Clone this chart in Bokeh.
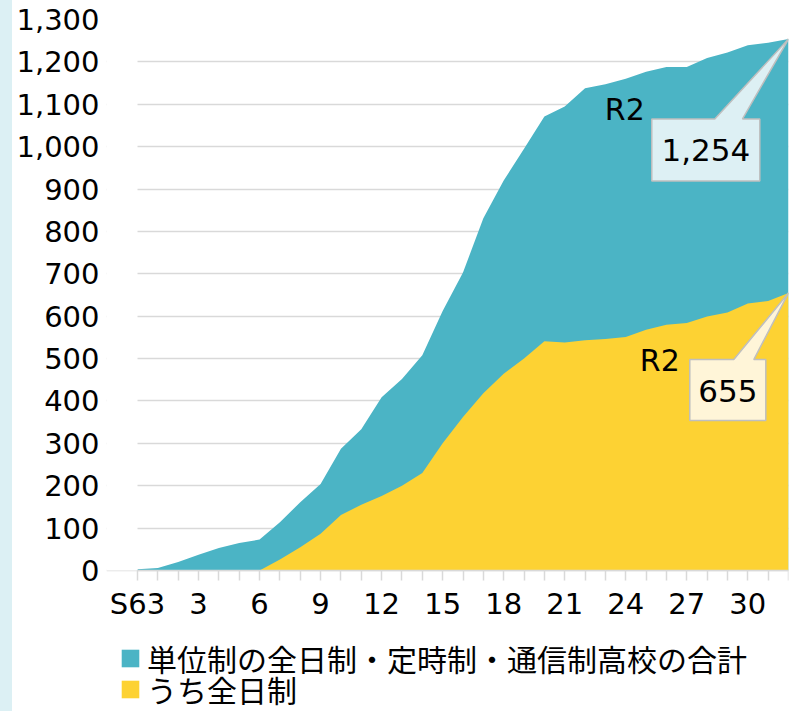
from bokeh.plotting import figure
from bokeh.layouts import row
from bokeh.models import (Range1d, FixedTicker, Legend, LegendItem, Label,
                          NumeralTickFormatter, ColumnDataSource, BoxAnnotation,
                          Div)
from bokeh.embed import file_html
from bokeh.resources import INLINE

# ---- data -------------------------------------------------------------
years = ["S63"] + [f"H{i}" for i in range(1, 31)] + ["R1", "R2"]
x_idx = list(range(len(years)))
total = [3, 6, 20, 37, 53, 65, 73, 114, 161, 204, 287, 333, 409, 452, 508,
         612, 703, 831, 920, 995, 1071, 1095, 1138, 1147, 1160, 1177, 1188,
         1188, 1209, 1222, 1239, 1245, 1254]
full_day = [0, 0, 0, 0, 0, 0, 0, 26, 55, 87, 131, 155, 176, 200, 230, 300,
            362, 418, 464, 500, 541, 538, 543, 546, 551, 568, 580, 584, 599,
            609, 630, 636, 655]
x_tick_labels = {0: "S63", 3: "3", 6: "6", 9: "9", 12: "12", 15: "15",
                 18: "18", 21: "21", 24: "24", 27: "27", 30: "30"}
y_ticks = list(range(0, 1301, 100))
Y_MAX = 1300
series_names = ["単位制の全日制・定時制・通信制高校の合計", "うち全日制"]
last_label = "R2"

TEAL = "#4bb4c5"
YELLOW = "#fdd233"
FONT = "DejaVu Sans"

# ---- layout -----------------------------------------------------------
STRIP = 12
W, H = 794 - STRIP, 711
BL, BR, BT, BB = 94, 6, 19, 0
FW = W - BL - BR
FH = H - BT - BB
X_LAST = x_idx[-1]
XPX = 651 / X_LAST          # pixels per year
YPX = 551 / Y_MAX           # pixels per school
x0 = X_LAST - FW / XPX      # frame extends left of the first year (legend room)
y0 = Y_MAX - FH / YPX       # frame extends below zero (axis labels + legend)

src = ColumnDataSource(dict(x=x_idx, total=total, full=full_day))

p = figure(width=W, height=H, output_backend="svg", toolbar_location=None,
           x_range=Range1d(x0, X_LAST), y_range=Range1d(y0, Y_MAX),
           min_border_left=BL, min_border_right=BR, min_border_top=BT,
           min_border_bottom=BB)
p.outline_line_color = None
p.background_fill_color = "white"
p.border_fill_color = "white"

# grid
p.xgrid.visible = False
p.ygrid.ticker = FixedTicker(ticks=y_ticks)
p.ygrid.grid_line_color = "#d9d9d9"
p.ygrid.grid_line_width = 1.5

# white mask left of the first year so grid lines start at the axis
p.add_layout(BoxAnnotation(left=x0, right=0, bottom=0, top=Y_MAX * 1.1,
                           fill_color="white", fill_alpha=1, line_color=None,
                           level="glyph"))

r_total = p.varea(x="x", y1=0, y2="total", source=src, fill_color=TEAL)
r_full = p.varea(x="x", y1=0, y2="full", source=src, fill_color=YELLOW)

# y axis
ya = p.yaxis[0]
ya.ticker = FixedTicker(ticks=y_ticks)
ya.formatter = NumeralTickFormatter(format="0,0")
ya.axis_line_color = None
ya.major_tick_line_color = None
ya.minor_tick_line_color = None
ya.major_label_standoff = 1
ya.major_label_text_font = FONT
ya.major_label_text_font_size = "29px"
ya.major_label_text_color = "black"

# x axis (placed at y = 0 inside the frame)
xa = p.xaxis[0]
xa.fixed_location = 0
xa.bounds = (0, X_LAST)
xa.ticker = FixedTicker(ticks=x_idx)
xa.major_label_overrides = {i: x_tick_labels.get(i, "") for i in x_idx}
xa.axis_line_color = "#d9d9d9"
xa.axis_line_width = 1.5
xa.major_tick_line_color = "#d9d9d9"
xa.major_tick_line_width = 1.5
xa.major_tick_in = 0
xa.major_tick_out = 10
xa.minor_tick_line_color = None
xa.major_label_standoff = 6
xa.major_label_text_font = FONT
xa.major_label_text_font_size = "29px"
xa.major_label_text_color = "black"

# callouts (offsets in screen pixels from the last data point)
px_x = 1 / XPX
px_y = 1 / YPX


def callout(yv, box, ptr, fill):
    l, r, t, b = box
    pl, pr = ptr
    pts = [(l, t), (pl, t), (0, 0), (pr, t), (r, t), (r, b), (l, b)]
    xs = [X_LAST + dx * px_x for dx, dy in pts]
    ys = [yv - dy * px_y for dx, dy in pts]
    p.patch(xs, ys, fill_color=fill, line_color="#bfbfbf", line_width=1.5)


def label(yv, dx, dy, text, size):
    p.add_layout(Label(x=X_LAST, y=yv, x_offset=dx, y_offset=-dy,
                       text=text, text_align="center", text_baseline="middle",
                       text_font=FONT, text_font_size=size,
                       text_color="black"))


callout(total[-1], (-136.7, -28.7, 80, 142), (-73.7, -46), "#ddf0f4")
label(total[-1], -163.7, 71, last_label, "30px")
label(total[-1], -82.7, 111, f"{total[-1]:,}", "31px")

callout(full_day[-1], (-98.7, -22.7, 66.7, 127.7), (-54.7, -34.7), "#fff5d8")
label(full_day[-1], -128.7, 67.7, last_label, "30px")
label(full_day[-1], -60.7, 97.7, f"{full_day[-1]:,}", "31px")


def legend_row(name, renderer, vy):
    lg = Legend(items=[LegendItem(label=name, renderers=[renderer])],
                location=(13, vy), orientation="vertical",
                glyph_width=22, glyph_height=22, label_standoff=6,
                label_text_font="Noto Sans CJK JP", label_text_font_size="30px",
                label_text_color="black", padding=0, margin=0,
                border_line_color=None, background_fill_alpha=0)
    p.add_layout(lg)


legend_row(series_names[0], r_total, 31)
legend_row(series_names[1], r_full, 0)

strip = Div(text="", width=STRIP, height=H, margin=0,
            styles={"background-color": "#dcf0f4"})
page = row(strip, p, spacing=0)

open("out.html", "w").write(file_html(page, INLINE))
